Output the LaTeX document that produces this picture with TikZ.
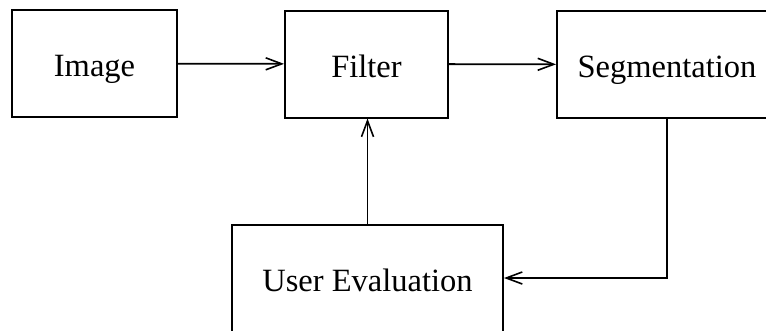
\documentclass[tikz,border=0pt]{standalone}
\usepackage{fontspec}
\setmainfont{Liberation Serif}
\usetikzlibrary{arrows.meta}

\begin{document}
\begin{tikzpicture}[x=1pt, y=-1pt,
    boite/.style={draw, line width=2pt, inner sep=0pt,
      minimum height=107pt, text height=26pt, text depth=0pt,
      font=\fontsize{32.5}{39}\selectfont},
    fleche/.style={line width=1.8pt,
      -{Straight Barb[length=16pt, width=12pt, line width=1.6pt]}}]
  \useasboundingbox (0,0) rectangle (766,330);
  \clip (0,0) rectangle (766,330);

  % Blocs
  \node[boite, minimum width=165pt] (image) at (94.5,63.5) {Image};
  \node[boite, minimum width=163pt] (filtre) at (366.5,64) {Filter};
  \node[boite, minimum width=220pt] (segm) at (667,64.5) {Segmentation};
  \node[boite, minimum width=271pt] (eval) at (367.5,278) {User Evaluation};

  % Flèches
  \draw[fleche] (image) -- (filtre);
  \draw[fleche] (filtre) -- (segm);
  \draw[fleche] (segm.south) |- (eval.east);
  \draw[fleche] (eval.north) -- (eval.north |- filtre.south);
\end{tikzpicture}
\end{document}
